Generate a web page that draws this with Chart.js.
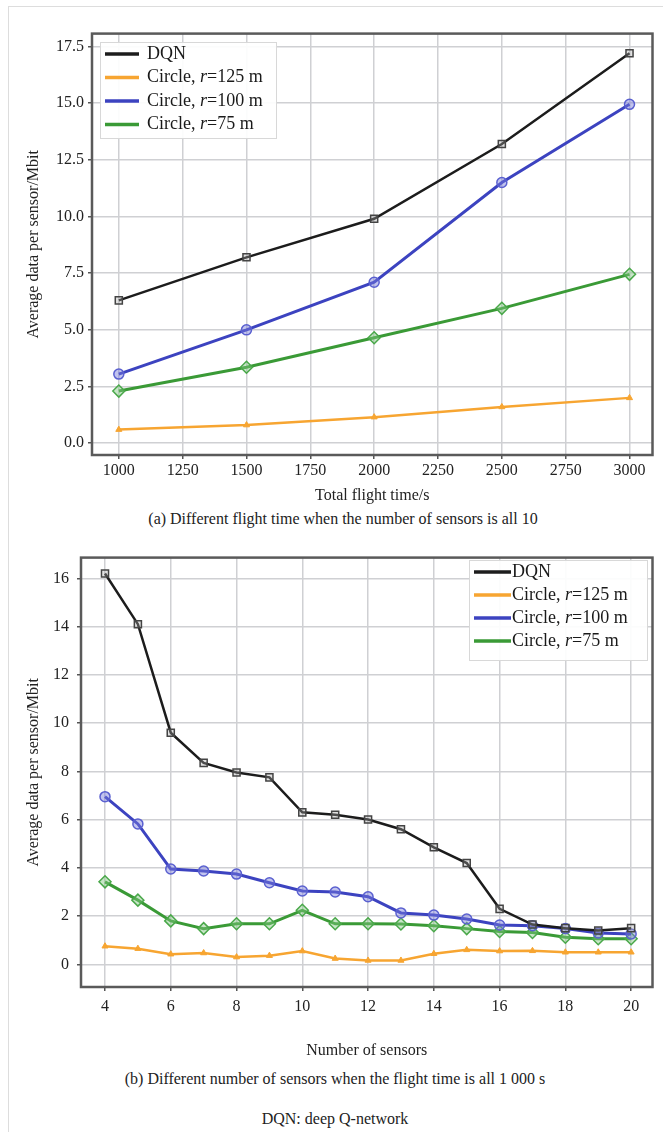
<!DOCTYPE html>
<html>
<head>
<meta charset="utf-8">
<script src="https://cdn.jsdelivr.net/npm/chart.js@4.4.0/dist/chart.umd.min.js"></script>
<style>
body { margin: 0; background: #fff; font-family: "Liberation Serif", serif; }
#frame { position: absolute; left: 8px; top: 6px; width: 654px; height: 1130px; border-top: 1px solid #ddd; border-left: 1px solid #ddd; }
.wrap { position: absolute; left: 10px; width: 650px; }
.cap { position: absolute; left: 0; width: 670px; text-align: center; font-size: 16px; color: #222; }
</style>
</head>
<body>
<div id="frame"></div>
<div class="wrap" style="top:20px;height:490px"><canvas id="chartA"></canvas></div>
<div class="cap" style="top:510px;left:8px">(a) Different flight time when the number of sensors is all 10</div>
<div class="wrap" style="top:540px;height:530px"><canvas id="chartB"></canvas></div>
<div class="cap" style="top:1070px">(b) Different number of sensors when the flight time is all 1 000 s</div>
<div class="cap" style="top:1110px">DQN: deep Q-network</div>

<script>
// ---- data (a) ----
const flightTimes = [1000, 1500, 2000, 2500, 3000];
const dqnA = [6.3, 8.2, 9.9, 13.2, 17.2];
const circle125A = [0.6, 0.8, 1.15, 1.6, 2.0];
const circle100A = [3.05, 5.0, 7.1, 11.5, 14.95];
const circle75A = [2.3, 3.35, 4.65, 5.95, 7.45];
const xTicksA = [1000, 1250, 1500, 1750, 2000, 2250, 2500, 2750, 3000];
const yTicksA = [0, 2.5, 5, 7.5, 10, 12.5, 15, 17.5];

// ---- data (b) ----
const sensors = [4, 5, 6, 7, 8, 9, 10, 11, 12, 13, 14, 15, 16, 17, 18, 19, 20];
const dqnB = [16.2, 14.1, 9.6, 8.35, 7.95, 7.75, 6.3, 6.2, 6.0, 5.6, 4.85, 4.2, 2.3, 1.65, 1.5, 1.4, 1.5];
const circle125B = [0.75, 0.65, 0.42, 0.47, 0.3, 0.36, 0.55, 0.24, 0.16, 0.16, 0.44, 0.6, 0.55, 0.56, 0.5, 0.5, 0.5];
const circle100B = [6.95, 5.82, 3.95, 3.87, 3.74, 3.38, 3.04, 3.0, 2.8, 2.13, 2.04, 1.88, 1.63, 1.6, 1.48, 1.3, 1.26];
const circle75B = [3.42, 2.66, 1.8, 1.48, 1.68, 1.68, 2.24, 1.68, 1.68, 1.67, 1.6, 1.48, 1.36, 1.32, 1.12, 1.06, 1.06];
const xTicksB = [4, 6, 8, 10, 12, 14, 16, 18, 20];
const yTicksB = [0, 2, 4, 6, 8, 10, 12, 14, 16];

const labels = ["DQN", "Circle, r=125 m", "Circle, r=100 m", "Circle, r=75 m"];

const black = "#1c1c1c";
const orange = "#f7a531";
const blue = "#3c43c0";
const green = "#3a9a36";
const serif = '"Liberation Serif", "DejaVu Serif", serif';

function pairs(xs, ys) {
    return xs.map((x, i) => ({ x: x, y: ys[i] }));
}

function makeSets(xs, d, o, b, g) {
    return [
        { label: labels[0], data: pairs(xs, d), borderColor: black, borderWidth: 2.5,
          pointStyle: "rect", pointRadius: 5, pointBackgroundColor: "rgba(170,170,170,0.35)",
          pointBorderColor: "#444", pointBorderWidth: 1.5 },
        { label: labels[1], data: pairs(xs, o), borderColor: orange, borderWidth: 2.5,
          pointStyle: "triangle", pointRadius: 3.5, pointBackgroundColor: orange,
          pointBorderColor: orange, pointBorderWidth: 1 },
        { label: labels[2], data: pairs(xs, b), borderColor: blue, borderWidth: 3,
          pointStyle: "circle", pointRadius: 5, pointBackgroundColor: "rgba(120,125,220,0.45)",
          pointBorderColor: "#5a60d0", pointBorderWidth: 1.5 },
        { label: labels[3], data: pairs(xs, g), borderColor: green, borderWidth: 3,
          pointStyle: "rectRot", pointRadius: 6, pointBackgroundColor: "rgba(130,200,130,0.45)",
          pointBorderColor: "#4aa84a", pointBorderWidth: 1.5 }
    ].map(s => Object.assign(s, { fill: false, tension: 0, clip: false }));
}

// box around the plot area
const frameBox = {
    id: "frameBox",
    afterDatasetsDraw(chart) {
        const { ctx, chartArea: a } = chart;
        ctx.save();
        ctx.strokeStyle = "#5a5a5a";
        ctx.lineWidth = 2.5;
        ctx.strokeRect(a.left, a.top, a.right - a.left, a.bottom - a.top);
        ctx.restore();
    }
};

// legend drawn inside the plot, with italic r
const boxLegend = {
    id: "boxLegend",
    afterDraw(chart, args, opts) {
        const { ctx } = chart;
        ctx.save();
        ctx.fillStyle = "rgba(255,255,255,0.92)";
        ctx.fillRect(opts.x, opts.y, opts.w, opts.h);
        ctx.strokeStyle = "#d8d8d8";
        ctx.lineWidth = 1;
        ctx.strokeRect(opts.x + 0.5, opts.y + 0.5, opts.w, opts.h);
        ctx.textBaseline = "middle";
        chart.data.datasets.forEach((ds, i) => {
            const cy = opts.y + opts.first + i * opts.rowH;
            const x0 = opts.x + opts.lineX;
            ctx.strokeStyle = ds.borderColor;
            ctx.lineWidth = 3.5;
            ctx.beginPath();
            ctx.moveTo(x0, cy);
            ctx.lineTo(x0 + opts.lineLen, cy);
            ctx.stroke();
            ctx.fillStyle = "#1a1a1a";
            let tx = opts.x + opts.textX;
            const m = ds.label.match(/^(.*, )(r)(=.*)$/);
            const parts = m ? [[m[1], ""], [m[2], "italic "], [m[3], ""]] : [[ds.label, ""]];
            parts.forEach(p => {
                ctx.font = p[1] + opts.size + "px " + serif;
                ctx.fillText(p[0], tx, cy);
                tx += ctx.measureText(p[0]).width;
            });
        });
        ctx.restore();
    }
};

function axis(min, max, ticks, fmt, size, title, titlePad, tickPad) {
    return {
        type: "linear",
        min: min,
        max: max,
        afterBuildTicks: s => { s.ticks = ticks.map(v => ({ value: v })); },
        afterFit: s => { if (s.isHorizontal()) s.height = size; else s.width = size; },
        ticks: { callback: fmt, color: "#222", font: { family: serif, size: 16 },
                 padding: tickPad, maxRotation: 0, autoSkip: false },
        grid: { color: "#cfd0d3", lineWidth: 1.5, tickLength: 4, tickColor: "#555" },
        border: { display: false },
        title: { display: true, text: title, color: "#222", font: { family: serif, size: 16 },
                 padding: titlePad }
    };
}

new Chart(document.getElementById("chartA"), {
    type: "line",
    data: { datasets: makeSets(flightTimes, dqnA, circle125A, circle100A, circle75A) },
    options: {
        responsive: true,
        maintainAspectRatio: false,
        animation: false,
        layout: { padding: { top: 10, right: 5, left: 0, bottom: 0 } },
        scales: {
            x: axis(895, 3090, xTicksA, v => String(v), 55, "Total flight time/s", { top: 2, bottom: 5 }, 2),
            y: axis(-0.52, 18.07, yTicksA, v => v.toFixed(1), 82, "Average data per sensor/Mbit", { top: 14, bottom: 0 }, 4)
        },
        plugins: {
            legend: { display: false },
            tooltip: { enabled: false },
            boxLegend: { x: 90, y: 22, w: 176, h: 96, first: 12, rowH: 23.5, lineX: 5, lineLen: 34, textX: 47, size: 18 }
        }
    },
    plugins: [frameBox, boxLegend]
});

new Chart(document.getElementById("chartB"), {
    type: "line",
    data: { datasets: makeSets(sensors, dqnB, circle125B, circle100B, circle75B) },
    options: {
        responsive: true,
        maintainAspectRatio: false,
        animation: false,
        layout: { padding: { top: 12, right: 5, left: 0, bottom: 0 } },
        scales: {
            x: axis(3.27, 20.65, xTicksB, v => String(v), 83, "Number of sensors", { top: 2, bottom: 10 }, 6),
            y: axis(-0.94, 16.86, yTicksB, v => String(v), 71, "Average data per sensor/Mbit", { top: 14, bottom: 0 }, 8)
        },
        plugins: {
            legend: { display: false },
            tooltip: { enabled: false },
            boxLegend: { x: 459, y: 20, w: 178, h: 100, first: 12, rowH: 23, lineX: 5, lineLen: 37, textX: 43, size: 18 }
        }
    },
    plugins: [frameBox, boxLegend]
});
</script>
</body>
</html>
